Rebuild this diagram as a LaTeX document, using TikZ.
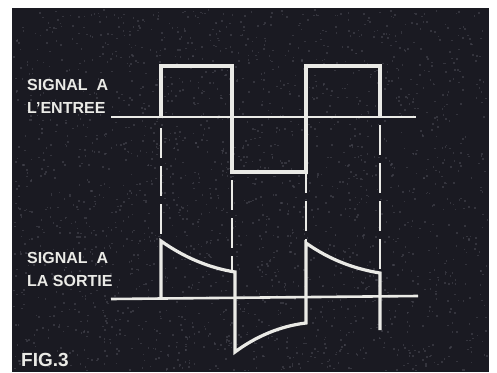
\documentclass[tikz,border=0pt]{standalone}
\usepackage{fontspec}
\setmainfont{Liberation Sans}
\definecolor{bg}{RGB}{26,26,34}
\definecolor{speck}{RGB}{70,70,80}
\definecolor{ink}{RGB}{234,234,230}
\tikzset{
  wave/.style={draw=ink, line width=3.2pt, line join=miter},
  axis/.style={draw=ink, line width=2.6pt},
  guide/.style={draw=ink, line width=2.8pt, dash pattern=on 30pt off 8pt},
  lbl/.style={text=ink, font=\bfseries\fontsize{16}{16}\selectfont, anchor=west, inner sep=0pt}
}
\begin{document}
\begin{tikzpicture}[x=1pt,y=-1pt]
\useasboundingbox (0,0) rectangle (497,372);
\fill[white] (0,0) rectangle (497,372);
\fill[bg] (12,8) rectangle (489,372);
% noise texture
\pgfmathsetseed{7}
\foreach \i in {1,...,2200}{
  \pgfmathsetmacro{\px}{13+rnd*474}
  \pgfmathsetmacro{\py}{9+rnd*361}
  \fill[speck, opacity=0.6] (\px,\py) rectangle ++(1.6,1.6);
}
% axes
\draw[axis] (111,117) -- (416,117);
\draw[axis] (111,299) -- (418,296);
% input signal
\draw[wave] (161,117) -- (161,66) -- (232,66) -- (232,172) -- (306,172) -- (306,66) -- (380,66) -- (380,117);
% guides
\draw[guide] (161,128) -- (161,240);
\draw[guide] (232,180) -- (232,272);
\draw[guide] (306,125) -- (306,243);
\draw[guide] (380,125) -- (380,273);
% output signal
\draw[wave] (161,298) -- (161,241) .. controls (185,258) and (210,268) .. (235,272)
  -- (235,352) .. controls (255,337) and (280,326) .. (306,323)
  -- (306,243) .. controls (330,260) and (355,269) .. (380,273) -- (380,330);
% labels
\node[lbl] (t1) at (27,85) {SIGNAL\ \ A};
\node[lbl] (t2) at (27,108) {L'ENTREE};
\node[lbl] (t3) at (27,257.5) {SIGNAL\ \ A};
\node[lbl] (t4) at (27,281) {LA\ SORTIE};
\node[lbl, font=\bfseries\fontsize{19}{19}\selectfont] (fig) at (21,360) {FIG.3};
\end{tikzpicture}
\end{document}
